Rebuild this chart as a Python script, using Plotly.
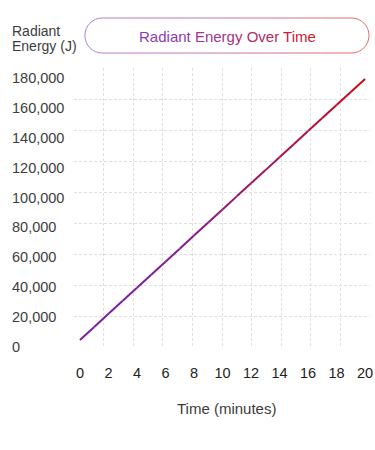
import plotly.graph_objects as go

# ---------------- data ----------------
time_min = [0, 1, 2, 3, 4, 5, 6, 7, 8, 9, 10, 11, 12, 13, 14, 15, 16, 17, 18, 19, 20]
energy_j = [4700, 13400, 22200, 30900, 39600, 48400, 57100, 65800, 74600, 83300,
            92000, 100800, 109500, 118200, 127000, 135700, 144500, 153200, 162000,
            170700, 179400]
x_tick_vals = [0, 2, 4, 6, 8, 10, 12, 14, 16, 18, 20]
y_tick_vals = [0, 20000, 40000, 60000, 80000, 100000, 120000, 140000, 160000, 180000]
title_text = "Radiant Energy Over Time"
x_title = "Time (minutes)"
y_title_lines = ["Radiant", "Energy (J)"]

# ---------------- styling ----------------
W, H = 375, 450
L, R, T, B = 74, 373, 68, 348          # plot area in pixels
FONT = "Liberation Sans, Arial, Helvetica, sans-serif"
TXT = "#3d3d3d"
GRID = "#e0e0e0"


def hex2rgb(h):
    h = h.lstrip("#")
    return tuple(int(h[i:i + 2], 16) for i in (0, 2, 4))


def mix(c1, c2, t):
    a, b = hex2rgb(c1), hex2rgb(c2)
    return "#%02x%02x%02x" % tuple(round(a[i] + (b[i] - a[i]) * t) for i in range(3))


def px(xp):
    return (xp - L) / (R - L)


def py(yp):
    return (B - yp) / (B - T)


fig = go.Figure()

# invisible trace for the grid axes
fig.add_trace(go.Scatter(x=[], y=[], xaxis="x", yaxis="y", showlegend=False, hoverinfo="skip"))

# gradient line
LINE_A, LINE_B = "#7a1ea8", "#cc0a10"
n = len(time_min)
for i in range(n - 1):
    t = ((i + 0.5) / (n - 1)) ** 1.7
    fig.add_trace(go.Scatter(
        x=time_min[i:i + 2], y=energy_j[i:i + 2], mode="lines",
        line=dict(color=mix(LINE_A, LINE_B, t), width=2),
        xaxis="x2", yaxis="y2", showlegend=False, hoverinfo="skip"))

shapes = []
# title pill with gradient border
bx0, bx1, by0, by1 = 85, 372, 18, 53
r = (by1 - by0) / 2
k = 0.5523 * r
BA, BB = "#b27fd2", "#e26c6c"
path_l = (f"M {px(bx0 + r)},{py(by0)} "
          f"C {px(bx0 + r - k)},{py(by0)} {px(bx0)},{py(by0 + r - k)} {px(bx0)},{py(by0 + r)} "
          f"C {px(bx0)},{py(by0 + r + k)} {px(bx0 + r - k)},{py(by1)} {px(bx0 + r)},{py(by1)}")
shapes.append(dict(type="path", xref="paper", yref="paper", path=path_l,
                   line=dict(color=BA, width=1)))
path_r = (f"M {px(bx1 - r)},{py(by0)} "
          f"C {px(bx1 - r + k)},{py(by0)} {px(bx1)},{py(by0 + r - k)} {px(bx1)},{py(by0 + r)} "
          f"C {px(bx1)},{py(by0 + r + k)} {px(bx1 - r + k)},{py(by1)} {px(bx1 - r)},{py(by1)}")
shapes.append(dict(type="path", xref="paper", yref="paper", path=path_r,
                   line=dict(color=BB, width=1)))
NSEG = 24
for s in range(NSEG):
    xa = bx0 + r + (bx1 - bx0 - 2 * r) * s / NSEG
    xb = bx0 + r + (bx1 - bx0 - 2 * r) * (s + 1) / NSEG
    c = mix(BA, BB, (s + 0.5) / NSEG)
    for yy in (by0, by1):
        shapes.append(dict(type="line", xref="paper", yref="paper",
                           x0=px(xa), x1=px(xb), y0=py(yy), y1=py(yy),
                           line=dict(color=c, width=1)))

# gradient title text
TA, TB = "#8b3db8", "#cc1f2a"
chars = list(title_text)
title_html = "".join(
    f"<span style='color:{mix(TA, TB, (i / (len(chars) - 1)) ** 1.4)}'>{ch}</span>"
    for i, ch in enumerate(chars))

annotations = [
    dict(text=title_html, xref="paper", yref="paper", x=px(229), y=py(36.5),
         xanchor="center", yanchor="middle", showarrow=False,
         font=dict(family=FONT, size=15)),
    dict(text=y_title_lines[0], xref="paper", yref="paper", x=px(9), y=py(31),
         xanchor="left", yanchor="middle", showarrow=False,
         font=dict(family=FONT, size=14, color=TXT)),
    dict(text=y_title_lines[1], xref="paper", yref="paper", x=px(9), y=py(45.5),
         xanchor="left", yanchor="middle", showarrow=False,
         font=dict(family=FONT, size=14, color=TXT)),
    dict(text=x_title, xref="paper", yref="paper", x=px(228), y=py(408),
         xanchor="center", yanchor="middle", showarrow=False,
         font=dict(family=FONT, size=15, color=TXT)),
]
# left-aligned y tick labels, placed through the y2 scale
for v in y_tick_vals:
    annotations.append(dict(text=f"{v:,}", xref="paper", yref="y2", x=px(9), y=v,
                            xanchor="left", yanchor="middle", showarrow=False,
                            font=dict(family=FONT, size=14.5, color=TXT)))

grid_axis = dict(showgrid=True, gridcolor=GRID, gridwidth=1, griddash="3px,2px",
                 zeroline=False, showline=False, ticks="", showticklabels=False,
                 fixedrange=True)
fig.update_layout(
    width=W, height=H, autosize=False,
    margin=dict(l=L, r=W - R, t=T, b=H - B, pad=0),
    paper_bgcolor="white", plot_bgcolor="white",
    font=dict(family=FONT, color=TXT),
    showlegend=False,
    xaxis=dict(grid_axis, domain=[0, 1], range=[0, 20], tickmode="linear", tick0=0, dtick=2),
    yaxis=dict(grid_axis, domain=[0, 1], range=[0, 180000], tickmode="linear", tick0=0, dtick=20000),
    xaxis2=dict(overlaying="x", anchor="y", side="bottom", range=[-0.417, 20.347],
                tickmode="array", tickvals=x_tick_vals, showgrid=False, zeroline=False,
                showline=False, ticks="", ticklabelstandoff=14, ticklabeloverflow="allow",
                tickfont=dict(family=FONT, size=14.5, color="#222222"), fixedrange=True),
    yaxis2=dict(overlaying="y", anchor="x", side="left", range=[-669, 186690],
                tickmode="array", tickvals=y_tick_vals, showticklabels=False, showgrid=False,
                zeroline=False, showline=False, ticks="", fixedrange=True),
    shapes=shapes,
    annotations=annotations,
)

fig.write_html("out.html", config={"displayModeBar": False},
               post_script="document.body.style.margin='0';")
